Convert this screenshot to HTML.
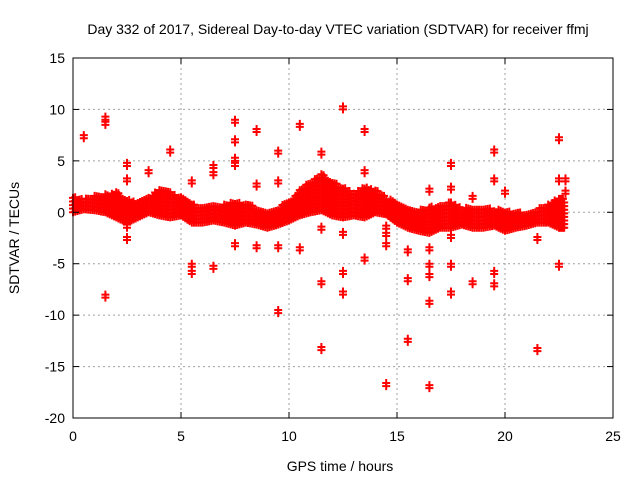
<!DOCTYPE html>
<html><head><meta charset="utf-8"><style>
body{margin:0;background:#fff;}
svg{display:block;font-family:"Liberation Sans",sans-serif;}
</style></head><body>
<svg id="chart" width="640" height="480" xmlns="http://www.w3.org/2000/svg">
<text x="338" y="34" font-size="14" text-anchor="middle">Day 332 of 2017, Sidereal Day-to-day VTEC variation (SDTVAR) for receiver ffmj</text>
<g id="grid"></g>
<g id="band"></g>
<g id="axes"></g>
<text x="340" y="471" font-size="14" text-anchor="middle">GPS time / hours</text>
<text x="0" y="0" font-size="14" text-anchor="middle" transform="translate(19,238) rotate(-90)">SDTVAR / TECUs</text>
</svg>
<script>
const xTicks=[0,5,10,15,20,25];
const yTicks=[15,10,5,0,-5,-10,-15,-20];
// band: hour, lower, upper
const bandHours=[0,0.5,1,1.5,2,2.5,3,3.5,4,4.5,5,5.5,6,6.5,7,7.5,8,8.5,9,9.5,10,10.5,11,11.5,12,12.5,13,13.5,14,14.5,15,15.5,16,16.5,17,17.5,18,18.5,19,19.5,20,20.5,21,21.5,22,22.5,22.8];
const bandLow=[0,0.3,0.2,0,-0.5,-1,-0.5,0,-0.3,-0.5,-0.3,-1,-1,-0.8,-1,-1.3,-1,-1.2,-1.5,-1.2,-0.8,-0.3,0,0.2,-0.3,-0.5,-0.3,-0.5,0,-0.2,-1,-1.5,-1.8,-2,-1.5,-1.5,-1.2,-1.5,-1.5,-1.3,-1.8,-1.5,-1.3,-1,-1,-1.5,-1.5];
const bandHigh=[1.5,1.3,1.6,1.8,2,1.3,1,1.5,2.3,2,1.5,0.8,0.5,0.6,0.8,1,0.8,0.5,0.2,0.5,1,2.2,3,3.8,3,2.5,1.8,2.5,2.3,1.5,0.8,0.5,0.2,0.5,0.8,1,0.5,0.3,0.5,0.3,0.2,0,0,0.3,0.8,1.5,1.2];
const outHours=[0.5,1.5,1.5,1.5,2.5,2.5,2.5,2.5,3.5,4.5,5.5,5.5,5.5,6.5,6.5,6.5,7.5,7.5,7.5,7.5,7.5,8.5,8.5,8.5,9.5,9.5,9.5,9.5,10.5,10.5,11.5,11.5,11.5,11.5,12.5,12.5,12.5,12.5,13.5,13.5,13.5,14.5,14.5,14.5,14.5,15.5,15.5,15.5,16.5,16.5,16.5,16.5,16.5,16.5,17.5,17.5,17.5,17.5,17.5,18.5,18.5,19.5,19.5,19.5,19.5,20,21.5,21.5,22.5,22.5,22.5,22.8,22.8];
const outValues=[7.2,9,8.5,-8.3,4.5,3,-1.5,-2.7,3.8,5.8,2.8,-5.3,-6,4.3,3.6,-5.5,8.7,6.8,5,4.5,-3.3,7.8,2.5,-3.5,5.7,2.8,-3.5,-9.8,8.3,-3.7,5.6,-1.7,-7,-13.4,10,-2.2,-6,-8,7.8,3.8,-4.7,-1.6,-2.3,-3.3,-16.9,-3.9,-6.7,-12.6,2,-3.7,-5.3,-6.3,-8.9,-17.1,4.5,2.2,-2.5,-5.3,-8,1.3,-7,5.8,3,-6,-7.2,1.8,-2.7,-13.5,7,3,-5.3,3,1.8];

const L=73,R=613,T=58,B=418;
const X=h=>L+(h-0)/25*(R-L);
const Y=v=>T+(15-v)/35*(B-T);
const NS="http://www.w3.org/2000/svg";
function mk(tag,attrs,parent){const e=document.createElementNS(NS,tag);for(const k in attrs)e.setAttribute(k,attrs[k]);parent.appendChild(e);return e;}
const grid=document.getElementById('grid'),axes=document.getElementById('axes'),band=document.getElementById('band');
xTicks.forEach(t=>{
  if(t>0&&t<25){const g=mk('line',{x1:X(t),x2:X(t),y1:T,y2:B,stroke:'#a0a0a0','stroke-dasharray':'2,3'},grid);
  
  }
  const tk=mk('line',{x1:X(t),x2:X(t),y1:B,y2:B-6,stroke:'#000'},axes);
  
  
  mk('line',{x1:X(t),x2:X(t),y1:T,y2:T+6,stroke:'#000'},axes);
  const tx=mk('text',{x:X(t),y:B+23,'font-size':14,'text-anchor':'middle'},axes);tx.textContent=t;
  
  
});
yTicks.forEach(t=>{
  if(t<15&&t>-20){const g=mk('line',{x1:L,x2:R,y1:Y(t),y2:Y(t),stroke:'#a0a0a0','stroke-dasharray':'2,3'},grid);
  
  }
  const tk=mk('line',{x1:L,x2:L+6,y1:Y(t),y2:Y(t),stroke:'#000'},axes);
  
  
  mk('line',{x1:R,x2:R-6,y1:Y(t),y2:Y(t),stroke:'#000'},axes);
  const tx=mk('text',{x:L-8,y:Y(t)+5,'font-size':14,'text-anchor':'end'},axes);tx.textContent=t;
  
  
});
const fr=mk('rect',{x:L,y:T,width:R-L,height:B-T,fill:'none',stroke:'#000'},axes);


function cross(h,v,name){
  const p=mk('path',{d:`M${X(h)-4},${Y(v)}h8M${X(h)},${Y(v)-4}v8`,stroke:'#f00','stroke-width':2,fill:'none'},band);
  
  
}
for(let i=0;i<bandHours.length-1;i++){
  for(let s=0;s<5;s++){
    const f=s/5,h=bandHours[i]+f*(bandHours[i+1]-bandHours[i]);
    const lo=bandLow[i]+f*(bandLow[i+1]-bandLow[i]),hi=bandHigh[i]+f*(bandHigh[i+1]-bandHigh[i]);
    for(let v=lo;v<=hi+0.01;v+=0.35)cross(h,v,'band-point');
  }
}
outHours.forEach((h,i)=>{cross(h,outValues[i],'outlier-point');cross(h,outValues[i]+0.3,'outlier-point');});
</script>
</body></html>
